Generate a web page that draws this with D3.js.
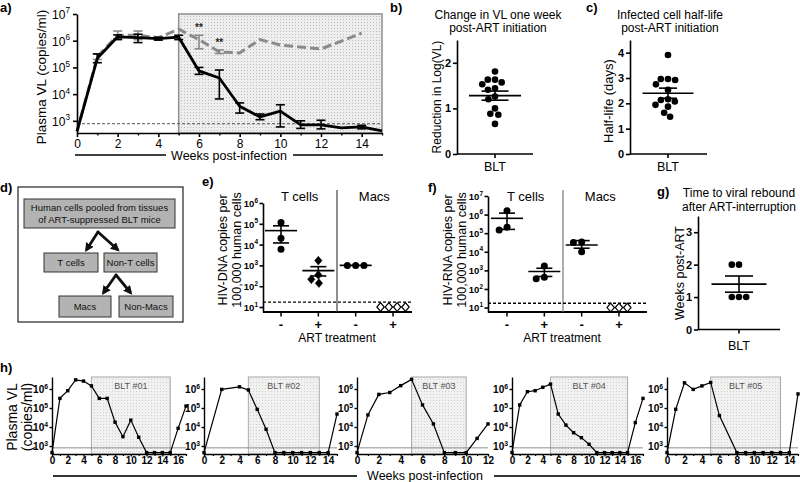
<!DOCTYPE html>
<html><head><meta charset="utf-8">
<script src="https://cdn.jsdelivr.net/npm/d3@7/dist/d3.min.js"></script>
<style>html,body{margin:0;padding:0;background:#fff;}svg{display:block;}</style>
</head><body>
<svg id="fig" width="800" height="482"></svg>
<script>
// ================= DATA =================
// a) Plasma VL over time
const aArtWeeks = [0,1,2,3,4,5,6,7,8,9,10,11,12,13,14,15];
const aArtVL    = [400,2.2e5,1.4e6,1.3e6,1.2e6,1.35e6,7.4e4,4.0e4,3500,1400,2300,700,700,540,590,420];
const aArtLo    = [null,1.5e5,1.1e6,8.5e5,1.05e6,1.1e6,5.5e4,6.6e3,1950,1100,590,520,500,null,500,null];
const aArtHi    = [null,3.2e5,1.65e6,1.75e6,1.35e6,1.6e6,1.0e5,8.0e4,4700,1800,4000,1000,1050,null,680,null];
const aUntWeeks = [0,1,2,3,4,5,6,7,8,9,10,12,14];
const aUntVL    = [400,2.5e5,1.6e6,1.6e6,1.3e6,2.7e6,1.1e6,3.8e5,3.5e5,1.1e6,6.9e5,4.9e5,1.9e6];
const aUntLo    = [null,2.0e5,1.2e6,1.1e6,1.2e6,null,5.0e5,3.3e5,null,null,null,null,null];
const aUntHi    = [null,3.2e5,2.3e6,2.3e6,1.4e6,null,1.6e6,4.5e5,null,null,null,null,null];
const aSigWeeks = [6,7];
const aLOD = 780;
const aArtWindow = [5,15];
const aYTicks = [1e3,1e4,1e5,1e6,1e7];
const aXTicks = [0,2,4,6,8,10,12,14];
const aXMinor = [1,3,5,7,9,11,13,15];

// b) Change in VL one week post-ART
const bVals = [1.81,1.57,1.63,1.63,1.53,1.44,1.41,1.26,1.2,1.0,0.88,0.86,0.66];
const bMean = 1.28, bSem = 0.1;
const bTicks = [0,1,2];
// c) infected cell half-life
const cVals = [3.91,2.96,2.92,2.96,2.75,2.53,2.13,2.16,1.94,1.87,2.07,1.47,1.63];
const cMean = 2.4, cSem = 0.2;
const cTicks = [0,1,2,3,4];
// g) time to rebound
const gVals = [2,2,1,1,1];
const gMean = 1.4, gSem = 0.25;
const gTicks = [0,1,2,3];

// e) / f) cells
const efCats   = ["T cells -","T cells +","Macs -","Macs +"];
const efTreat  = ["-","+","-","+"];
const efGroups = ["T cells","Macs"];
const efYTicksE = [1e1,1e2,1e3,1e4,1e5,1e6];
const efYTicksF = [1e1,1e2,1e3,1e4,1e5,1e6,1e7];
const efLOD = 17;
const eVals = [[1.17e5,2.0e4,5.9e3],[1700,350,140,215],[1000,1000,1000],[10,10,10,10]];
const eMean = [4.7e4,560,1000,null];
const eLo   = [1.2e4,310,null,null];
const eHi   = [8.0e4,870,null,null];
const eMarks = ["circle","diamond","circle","open"];
const fVals = [[1.6e6,1.5e5,2.1e5],[1700,350,430],[3.4e4,3.2e4,1.0e4],[10,10,10]];
const fMean = [6.3e5,870,2.3e4,null];
const fLo   = [1.6e5,470,1.55e4,null];
const fHi   = [1.2e6,1300,4.0e4,null];
const fMarks = ["circle","circle","circle","open"];

// h) individual animals
const hNames = ["BLT #01","BLT #02","BLT #03","BLT #04","BLT #05"];
const hMaxWeek = [17,15,12,17,15];
const hArtStart = [5,5,5,5,5];
const hArtEnd = [15,13,10,15,13];
const hWeeks = [
  [0,1,2,3,4,5,6,7,8,9,10,11,12,13,14,15,16,17],
  [0,2,4,5,6,7,8,9,10,11,12,13,14,15],
  [0,1,2,3,4,5,6,7,8,9,10,11,12],
  [0,1,2,3,4,5,6,7,8,9,10,11,12,13,14,15,16,17],
  [0,1,2,3,4,5,6,8,9,10,11,12,13,14,15]
];
const hVL = [
  [450,3.2e5,8.1e5,3.0e6,2.6e6,1.45e6,3.2e5,3.2e5,1.8e4,3.1e3,2.3e4,2.9e3,450,450,450,450,8.5e3,1.26e5],
  [450,9.5e5,1.3e6,8.9e5,8.5e4,7.6e3,450,450,450,450,450,450,450,4.8e4],
  [450,4.3e4,5.2e5,6.5e5,1.5e6,3.2e6,1.45e5,1.45e4,450,450,450,2.5e3,1.45e4],
  [450,1.45e5,7.2e5,8.1e5,1.23e6,1.8e6,4.8e4,1.26e4,5.0e3,2.75e3,1.23e3,450,450,450,450,450,1.7e4,3.2e5],
  [450,8.5e4,2.1e6,9.5e5,1.45e6,2.2e6,4.0e4,450,450,450,450,450,450,450,5.5e5]
];
const hLOD = 800;
const hYTicks = [1e3,1e4,1e5,1e6];

// ================= DRAWING =================
const FONT = "'Liberation Sans', Arial, Helvetica, sans-serif";
const svg = d3.select("#fig");
svg.append("rect").attr("width",800).attr("height",482).attr("fill","#fff");
const defs = svg.append("defs");
function stipple(id,bg,dot){
  const p=defs.append("pattern").attr("id",id).attr("width",3).attr("height",3).attr("patternUnits","userSpaceOnUse");
  p.append("rect").attr("width",3).attr("height",3).attr("fill",bg);
  p.append("rect").attr("x",1).attr("y",1).attr("width",1).attr("height",1).attr("fill",dot);
}
stipple("stipA","#eeeeee","#bdbdbd");
stipple("stipH","#f1f1f1","#cfcfcf");
defs.append("marker").attr("id","arrow").attr("viewBox","0 0 10 10").attr("refX",6).attr("refY",5)
  .attr("markerWidth",3.2).attr("markerHeight",3.2).attr("orient","auto")
  .append("path").attr("d","M0,0L10,5L0,10Z").attr("fill","#111");

function text(g,x,y,s,o={}){
  const t=g.append("text").attr("x",x).attr("y",y).attr("text-anchor",o.anchor||"middle")
    .attr("font-size",o.size||12).attr("font-weight",o.weight||"normal").attr("fill",o.fill||"#000")
    .attr("font-family",FONT).text(s);
  if(o.rot){ t.attr("transform",`rotate(-90,${x},${y})`).attr("dy","0.35em"); }
  return t;
}
function styleAxis(ax,fs,sw,bold){
  ax.attr("font-family",FONT).attr("font-size",fs);
  ax.selectAll(".domain").attr("stroke","#000").attr("stroke-width",sw);
  ax.selectAll(".tick line").attr("stroke","#000").attr("stroke-width",sw);
  ax.selectAll(".tick text").attr("fill","#000").attr("font-weight",bold?"bold":"normal");
  return ax;
}
function supLabels(ax,fs,pad,bold){
  ax.selectAll(".tick").each(function(d){
    const t=d3.select(this).append("text").attr("x",-pad).attr("y",0).attr("dy","0.36em")
      .attr("text-anchor","end").attr("fill","#000").attr("font-family",FONT).attr("font-size",fs)
      .attr("font-weight",bold?"bold":"normal");
    t.append("tspan").text("10");
    t.append("tspan").attr("dy",-fs*0.45).attr("font-size",fs*0.68).text(Math.round(Math.log10(d)));
  });
}
function swarm(vals,yS,D){
  const pts=vals.map((v,i)=>({v,i,y:yS(v),off:0}));
  if(vals.every(v=>v===vals[0])){ pts.forEach((p,k)=>p.off=(k-(pts.length-1)/2)*D); return pts; }
  const order=pts.slice().sort((a,b)=>a.y-b.y);
  const placed=[];
  order.forEach(p=>{
    const ints=[],cands=[0];
    placed.forEach(q=>{const dy=Math.abs(q.y-p.y); if(dy<D){const w=Math.sqrt(D*D-dy*dy); ints.push([q.off-w,q.off+w]); cands.push(q.off-w,q.off+w);}});
    cands.sort((a,b)=>Math.abs(a)-Math.abs(b)||a-b);
    for(const c of cands){ if(ints.every(([l,h])=>c<=l+1e-6||c>=h-1e-6)){p.off=c;break;} }
    placed.push(p);
  });
  return pts;
}
function hline(g,x1,x2,y,sw,col){ g.append("line").attr("x1",x1).attr("x2",x2).attr("y1",y).attr("y2",y).attr("stroke",col||"#000").attr("stroke-width",sw||1.5); }
function vline(g,x,y1,y2,sw,col){ g.append("line").attr("x1",x).attr("x2",x).attr("y1",y1).attr("y2",y2).attr("stroke",col||"#000").attr("stroke-width",sw||1.5); }

// panel letters
[["a)",0,12],["b)",390,12],["c)",586,12],["d)",0,192],["e)",202,186],["f)",428,192],["g)",657,196],["h)",0,372]]
  .forEach(([s,x,y])=>text(svg,x,y,s,{anchor:"start",size:13,weight:"bold"}));

// ---------- a ----------
{
  const g=svg.append("g");
  const x=d3.scaleLinear().domain([0,15]).range([77,382]);
  const y=d3.scaleLog().domain([350,1e7]).range([133,14]);
  g.append("rect").attr("x",x(aArtWindow[0])).attr("y",y(1e7)).attr("width",x(aArtWindow[1])-x(aArtWindow[0]))
    .attr("height",y(350)-y(1e7)).attr("fill","url(#stipA)").attr("stroke","#8e8e8e").attr("stroke-width",1.5);
  g.append("line").attr("x1",x(0)).attr("x2",x(15)).attr("y1",y(aLOD)).attr("y2",y(aLOD))
    .attr("stroke","#555").attr("stroke-width",1).attr("stroke-dasharray","3,2");
  const ln=d3.line().x(d=>x(d[0])).y(d=>y(d[1]));
  function errs(weeks,lo,hi,col){
    weeks.forEach((w,i)=>{ if(lo[i]==null) return; const xx=x(w);
      vline(g,xx,y(lo[i]),y(hi[i]),1.6,col); hline(g,xx-4.5,xx+4.5,y(lo[i]),1.6,col); hline(g,xx-4.5,xx+4.5,y(hi[i]),1.6,col); });
  }
  errs(aUntWeeks,aUntLo,aUntHi,"#8a8a8a");
  g.append("path").datum(d3.zip(aUntWeeks,aUntVL)).attr("d",ln).attr("fill","none").attr("stroke","#8a8a8a")
    .attr("stroke-width",3).attr("stroke-dasharray","9,4");
  g.append("path").datum(d3.zip(aArtWeeks,aArtVL)).attr("d",ln).attr("fill","none").attr("stroke","#000")
    .attr("stroke-width",2.8).attr("stroke-linejoin","round");
  errs(aArtWeeks,aArtLo,aArtHi,"#000");
  aSigWeeks.forEach(w=>{ const i=aUntWeeks.indexOf(w); text(g,x(w),y(aUntHi[i])-4,"**",{size:10,weight:"bold",fill:"#222"}); });
  const ay=g.append("g").attr("transform",`translate(${x(0)},0)`)
    .call(d3.axisLeft(y).tickValues(aYTicks).tickSize(4).tickSizeOuter(0).tickFormat(()=>""));
  styleAxis(ay,12,1.6); supLabels(ay,12,7);
  const ax=g.append("g").attr("transform",`translate(0,${y(350)})`)
    .call(d3.axisBottom(x).tickValues(aXTicks).tickSize(4).tickSizeOuter(0).tickPadding(2).tickFormat(d3.format("d")));
  styleAxis(ax,12,1.6);
  const axm=g.append("g").attr("transform",`translate(0,${y(350)})`)
    .call(d3.axisBottom(x).tickValues(aXMinor).tickSize(2.5).tickFormat(()=>""));
  axm.select(".domain").remove(); styleAxis(axm,12,1.4);
  text(g,41,77,"Plasma VL (copies/ml)",{size:13.5,rot:true});
  text(g,229,160,"Weeks post-infection",{size:12.5});
  hline(g,75,166,155,1.6); hline(g,293,383,155,1.6);
}

// ---------- b, c, g ----------
function dotPanel(c){
  const g=svg.append("g");
  const y=d3.scaleLinear().domain(c.domain).range(c.yRange);
  const ay=g.append("g").attr("transform",`translate(${c.x0},0)`)
    .call(d3.axisLeft(y).tickValues(c.ticks).tickSize(4).tickSizeOuter(0).tickPadding(2).tickFormat(d3.format("d")));
  styleAxis(ay,11,1.6,true);
  hline(g,c.x0,c.x1,c.yRange[0],1.6);
  vline(g,c.cx,c.yRange[0],c.yRange[0]+4,1.6);
  swarm(c.vals,y,7.2).forEach(p=>g.append("circle").attr("cx",c.cx+p.off).attr("cy",p.y).attr("r",3.3).attr("fill","#000"));
  hline(g,c.cx-c.mhw,c.cx+c.mhw,y(c.mean),1.6);
  vline(g,c.cx,y(c.mean-c.sem),y(c.mean+c.sem),1.6);
  hline(g,c.cx-c.chw,c.cx+c.chw,y(c.mean-c.sem),1.6);
  hline(g,c.cx-c.chw,c.cx+c.chw,y(c.mean+c.sem),1.6);
  text(g,c.cx,c.catY,"BLT",{size:12.5});
  c.title.forEach((s,i)=>text(g,c.titleX,c.titleY[i],s,{size:12}));
  text(g,c.labX,c.labY,c.ylab,{size:c.labSize,rot:true});
}
dotPanel({vals:bVals,mean:bMean,sem:bSem,domain:[0,2.5],yRange:[154,40],ticks:bTicks,x0:457,x1:533,cx:495,
  mhw:26,chw:13.5,catY:171,title:["Change in  VL one week","post-ART initiation"],titleX:498,titleY:[18.5,32],
  labX:437,labY:97,ylab:"Reduction in Log(VL)",labSize:12});
dotPanel({vals:cVals,mean:cMean,sem:cSem,domain:[0,4.5],yRange:[154,40],ticks:cTicks,x0:630,x1:707,cx:668,
  mhw:25.5,chw:9,catY:171,title:["Infected cell half-life","post-ART initiation"],titleX:670,titleY:[18.5,32],
  labX:608,labY:101,ylab:"Half-life  (days)",labSize:13});
dotPanel({vals:gVals,mean:gMean,sem:gSem,domain:[0,3.5],yRange:[329.5,216],ticks:gTicks,x0:698,x1:780,cx:739,
  mhw:27.5,chw:14,catY:350,title:["Time to viral rebound","after ART-interruption"],titleX:739,titleY:[197,211],
  labX:680,labY:273,ylab:"Weeks post-ART",labSize:12.5});

// ---------- d ----------
{
  const g=svg.append("g");
  g.append("rect").attr("x",18).attr("y",187).attr("width",165).attr("height",135).attr("fill","none").attr("stroke","#222").attr("stroke-width",1.2);
  const boxes=[
    {x:24,y:199,w:151,h:29,t:["Human cells pooled from tissues","of ART-suppressed BLT mice"]},
    {x:44,y:253,w:54,h:19,t:["T cells"]},
    {x:104,y:253,w:53,h:19,t:["Non-T cells"]},
    {x:59,y:296,w:52,h:21,t:["Macs"]},
    {x:119,y:296,w:54,h:21,t:["Non-Macs"]}
  ];
  boxes.forEach(b=>{
    g.append("rect").attr("x",b.x).attr("y",b.y).attr("width",b.w).attr("height",b.h).attr("fill","#b3b3b3").attr("stroke","#333").attr("stroke-width",1);
    const cy=b.y+b.h/2, n=b.t.length;
    b.t.forEach((s,i)=>text(g,b.x+b.w/2,cy+(i-(n-1)/2)*12.5+3.5,s,{size:9.5,fill:"#111"}));
  });
  [[98,232,87,249],[98,232,117,249],[116,275,104,292],[116,275,130,292]].forEach(([x1,y1,x2,y2])=>{
    g.append("line").attr("x1",x1).attr("y1",y1).attr("x2",x2).attr("y2",y2).attr("stroke","#111").attr("stroke-width",2.8)
      .attr("stroke-linecap","round").attr("marker-end","url(#arrow)");
  });
}

// ---------- e, f ----------
function cellPanel(c){
  const g=svg.append("g");
  const y=d3.scaleLog().domain(c.domain).range([312,c.yTop]);
  const x=d3.scalePoint().domain(efCats).range(c.xr);
  const ay=g.append("g").attr("transform",`translate(${c.x0},0)`)
    .call(d3.axisLeft(y).tickValues(c.ticks).tickSize(3.5).tickSizeOuter(0).tickFormat(()=>""));
  styleAxis(ay,9.5,1.6); supLabels(ay,9.5,5,true);
  hline(g,c.x0,c.x1,312,1.8);
  const divX=(x(efCats[1])+x(efCats[2]))/2;
  vline(g,divX,190,312,1.2,c.divCol);
  g.append("line").attr("x1",c.x0).attr("x2",c.x1).attr("y1",y(efLOD)).attr("y2",y(efLOD))
    .attr("stroke","#000").attr("stroke-width",1.3).attr("stroke-dasharray","3,2");
  efCats.forEach((k,i)=>{
    const cx=x(k);
    vline(g,cx,312,316.5,1.5);
    text(g,cx,329,efTreat[i],{size:13,weight:"bold"});
    swarm(c.vals[i],y,8.3).forEach(p=>{
      const px=cx+p.off, m=c.marks[i];
      if(m==="circle") g.append("circle").attr("cx",px).attr("cy",p.y).attr("r",3.5).attr("fill","#000");
      else g.append("path").attr("d","M0,-4.4L3.7,0L0,4.4L-3.7,0Z").attr("transform",`translate(${px},${p.y})`)
        .attr("fill",m==="open"?"#fff":"#000").attr("stroke","#000").attr("stroke-width",m==="open"?1.2:0.5);
    });
    if(c.mean[i]!=null){
      hline(g,cx-16,cx+16,y(c.mean[i]),1.6);
      if(c.lo[i]!=null){
        vline(g,cx,y(c.lo[i]),y(c.hi[i]),1.6);
        hline(g,cx-8,cx+8,y(c.lo[i]),1.6); hline(g,cx-8,cx+8,y(c.hi[i]),1.6);
      }
    }
  });
  text(g,(x(efCats[0])+x(efCats[1]))/2,200.5,efGroups[0],{size:13});
  text(g,(x(efCats[2])+x(efCats[3]))/2,200.5,efGroups[1],{size:13});
  text(g,c.artX,342,"ART treatment",{size:12});
  text(g,c.labX,250,c.ylab[0],{size:12.5,rot:true});
  text(g,c.labX+14,250,c.ylab[1],{size:12.5,rot:true});
}
cellPanel({domain:[Math.pow(10,0.76),1e6],yTop:203,ticks:efYTicksE,xr:[281,393],x0:263,x1:412,vals:eVals,mean:eMean,lo:eLo,hi:eHi,
  marks:eMarks,divCol:"#444",artX:337,labX:223,ylab:["HIV-DNA copies per","100,000 human cells"]});
cellPanel({domain:[Math.pow(10,0.76),1e7],yTop:196,ticks:efYTicksF,xr:[507,619],x0:488,x1:647,vals:fVals,mean:fMean,lo:fLo,hi:fHi,
  marks:fMarks,divCol:"#777",artX:562,labX:448,ylab:["HIV-RNA copies per","100,000 human cells"]});

// ---------- h ----------
{
  const g=svg.append("g");
  const hXRanges=[[52,186],[204,337],[357,488],[512,643],[667,798]];
  const y=d3.scaleLog().domain([380,Math.pow(10,6.63)]).range([454,377]);
  hNames.forEach((nm,i)=>{
    const [x0,x1]=hXRanges[i];
    const x=d3.scaleLinear().domain([0,hMaxWeek[i]]).range([x0,x1]);
    g.append("rect").attr("x",x(hArtStart[i])).attr("y",377).attr("width",x(hArtEnd[i])-x(hArtStart[i])).attr("height",77)
      .attr("fill","url(#stipH)").attr("stroke","#a8a8a8").attr("stroke-width",1);
    text(g,(x(hArtStart[i])+x(hArtEnd[i]))/2,388.5,nm,{size:9,fill:"#555"});
    hline(g,x0,x1,y(hLOD),1,"#8e8e8e");
    const ln=d3.line().x(d=>x(d[0])).y(d=>y(d[1]));
    const pts=d3.zip(hWeeks[i],hVL[i]);
    g.append("path").datum(pts).attr("d",ln).attr("fill","none").attr("stroke","#000").attr("stroke-width",1.2);
    pts.forEach(d=>g.append("rect").attr("x",x(d[0])-1.7).attr("y",y(d[1])-1.7).attr("width",3.4).attr("height",3.4).attr("fill","#000"));
    const ay=g.append("g").attr("transform",`translate(${x0},0)`)
      .call(d3.axisLeft(y).tickValues(hYTicks).tickSize(2.5).tickSizeOuter(0).tickFormat(()=>""));
    styleAxis(ay,10,1.4); supLabels(ay,10,4,true);
    const major=d3.range(0,hMaxWeek[i]+1,2), minor=d3.range(1,hMaxWeek[i]+1,2);
    const ax=g.append("g").attr("transform","translate(0,454)")
      .call(d3.axisBottom(x).tickValues(major).tickSize(2.5).tickSizeOuter(0).tickPadding(0.5).tickFormat(d3.format("d")));
    styleAxis(ax,10,1.4,true);
    const axm=g.append("g").attr("transform","translate(0,454)")
      .call(d3.axisBottom(x).tickValues(minor).tickSize(2).tickFormat(()=>""));
    axm.select(".domain").remove(); styleAxis(axm,10,1.2);
  });
  text(g,12,417,"Plasma VL",{size:14,rot:true});
  text(g,27,417,"(copies/ml)",{size:14,rot:true});
  text(g,425,479.5,"Weeks post-infection",{size:12.5});
  hline(g,53,357,476,2,"#333"); hline(g,494,800,476,2,"#333");
}
</script>
</body></html>
